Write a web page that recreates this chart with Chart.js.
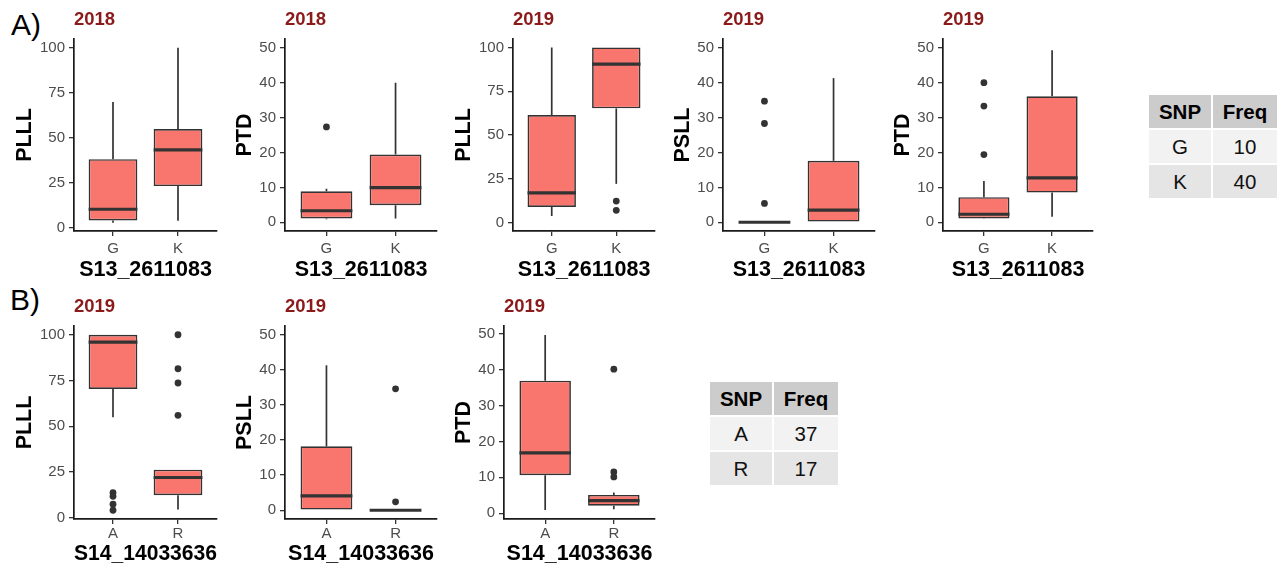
<!DOCTYPE html>
<html>
<head>
<meta charset="utf-8">
<script src="https://cdn.jsdelivr.net/npm/chart.js@4.4.1/dist/chart.umd.min.js"></script>
<style>
  html, body { margin: 0; padding: 0; background: #fff; }
  #fig { position: relative; width: 1286px; height: 568px; overflow: hidden;
         font-family: "Liberation Sans", Arial, sans-serif; }
  .panel { position: absolute; }
  .tag { position: absolute; font-size: 30px; line-height: 30px; color: #000; }
  .year { position: absolute; font-size: 18.5px; line-height: 18px; font-weight: bold; color: #8B1A1A; }
  .cell { position: absolute; display: flex; align-items: center; justify-content: center;
          font-size: 20.5px; color: #111; }
  .cell.head { font-weight: bold; color: #000; }
</style>
</head>
<body>
<div id="fig"></div>
<script>
// Genotype categories and y tick values
const snpA = ['G', 'K'];
const snpB = ['A', 'R'];
const ticks100 = [0, 25, 50, 75, 100];
const ticks50 = [0, 10, 20, 30, 40, 50];

// Five-number summaries per genotype: [lower whisker, Q1, median, Q3, upper whisker]
const plll2018A = [[2.6, 3.9, 10.1, 38.0, 69.8], [3.7, 23.0, 43.2, 54.8, 100]];
const plll2018AOut = [[], []];
const ptd2018A = [[0.9, 1.1, 3.3, 8.9, 9.6], [1.1, 4.9, 9.9, 19.4, 40]];
const ptd2018AOut = [[27.3], []];
const plll2019A = [[3.8, 8.9, 17.0, 61.4, 100], [22.1, 65.2, 90.5, 100, 100]];
const plll2019AOut = [[], [12.3, 7.0]];
const psll2019A = [[0, 0, 0, 0, 0], [0, 0, 3.5, 17.6, 41.3]];
const psll2019AOut = [[34.7, 28.3, 5.4], []];
const ptd2019A = [[1.0, 1.1, 2.3, 7.2, 11.8], [1.6, 8.5, 12.7, 36.1, 49.3]];
const ptd2019AOut = [[40.0, 33.3, 19.4], []];

const plll2019B = [[54.9, 70.3, 96.0, 100, 100], [4.4, 12.2, 21.9, 26.2, 26.2]];
const plll2019BOut = [[13.6, 11.6, 7.3, 4.0], [100, 81.4, 73.6, 55.9]];
const psll2019B = [[0, 0, 4.1, 18.2, 41.3], [0, 0, 0, 0, 0]];
const psll2019BOut = [[], [34.6, 2.4]];
const ptd2019B = [[0.9, 10.6, 16.8, 36.9, 49.6], [1.1, 2.1, 3.5, 5.1, 5.8]];
const ptd2019BOut = [[], [40.1, 11.5, 10.1]];

// Allele frequency tables
const freqHeader = ['SNP', 'Freq'];
const freqAlleleA = ['G', 'K'];
const freqCountA = [10, 40];
const freqAlleleB = ['A', 'R'];
const freqCountB = [37, 17];

const fig = document.getElementById('fig');
const FONT = '"Liberation Sans", Arial, sans-serif';
const BOX_FILL = '#F8766D';
const INK = '#333333';
const TITLE_SIZE = 21.5;
const TICK_SIZE = 15;

// Row layouts (plot panel top/bottom, height of x-axis block, tick padding)
const rows = {
  A: { top: 38, bottom: 231, xH: 52, xPad: 4, yearTop: 10 },
  B: { top: 325, bottom: 519, xH: 48, xPad: 1, yearTop: 297 }
};

const panels = [
  { row: 'A', left: 74, right: 217, year: '2018', yLabel: 'PLLL', xLabel: 'S13_2611083', cats: snpA,
    stats: plll2018A, outliers: plll2018AOut, yMin: -2.0, yMax: 104.9, yTicks: ticks100 },
  { row: 'A', left: 285, right: 437, year: '2018', yLabel: 'PTD', xLabel: 'S13_2611083', cats: snpA,
    stats: ptd2018A, outliers: ptd2018AOut, yMin: -2.5, yMax: 52.5, yTicks: ticks50 },
  { row: 'A', left: 513, right: 655, year: '2019', yLabel: 'PLLL', xLabel: 'S13_2611083', cats: snpA,
    stats: plll2019A, outliers: plll2019AOut, yMin: -4.8, yMax: 104.8, yTicks: ticks100 },
  { row: 'A', left: 723, right: 875, year: '2019', yLabel: 'PSLL', xLabel: 'S13_2611083', cats: snpA,
    stats: psll2019A, outliers: psll2019AOut, yMin: -2.5, yMax: 52.5, yTicks: ticks50 },
  { row: 'A', left: 943, right: 1093, year: '2019', yLabel: 'PTD', xLabel: 'S13_2611083', cats: snpA,
    stats: ptd2019A, outliers: ptd2019AOut, yMin: -2.5, yMax: 52.5, yTicks: ticks50 },
  { row: 'B', left: 74, right: 217, year: '2019', yLabel: 'PLLL', xLabel: 'S14_14033636', cats: snpB,
    stats: plll2019B, outliers: plll2019BOut, yMin: -0.8, yMax: 104.8, yTicks: ticks100 },
  { row: 'B', left: 285, right: 437, year: '2019', yLabel: 'PSLL', xLabel: 'S14_14033636', cats: snpB,
    stats: psll2019B, outliers: psll2019BOut, yMin: -2.5, yMax: 52.5, yTicks: ticks50 },
  { row: 'B', left: 504, right: 655, year: '2019', yLabel: 'PTD', xLabel: 'S14_14033636', cats: snpB,
    stats: ptd2019B, outliers: ptd2019BOut, yMin: -1.6, yMax: 52.1, yTicks: ticks50 }
];

// Whiskers under the boxes, thick median bars on top
const boxWhiskers = {
  id: 'boxWhiskers',
  beforeDatasetsDraw(chart) {
    const stats = chart.data.datasets[0].stats;
    const meta = chart.getDatasetMeta(0);
    const y = chart.scales.y;
    const ctx = chart.ctx;
    ctx.save();
    ctx.strokeStyle = INK;
    ctx.lineWidth = 1.7;
    stats.forEach((s, i) => {
      const el = meta.data[i];
      ctx.beginPath();
      ctx.moveTo(el.x, y.getPixelForValue(s[3]));
      ctx.lineTo(el.x, y.getPixelForValue(s[4]));
      ctx.moveTo(el.x, y.getPixelForValue(s[0]));
      ctx.lineTo(el.x, y.getPixelForValue(s[1]));
      ctx.stroke();
    });
    ctx.restore();
  },
  afterDatasetsDraw(chart) {
    const stats = chart.data.datasets[0].stats;
    const meta = chart.getDatasetMeta(0);
    const y = chart.scales.y;
    const ctx = chart.ctx;
    ctx.save();
    ctx.strokeStyle = INK;
    ctx.lineWidth = 3.2;
    ctx.lineCap = 'butt';
    stats.forEach((s, i) => {
      const el = meta.data[i];
      const py = y.getPixelForValue(s[2]);
      ctx.beginPath();
      ctx.moveTo(el.x - el.width / 2, py);
      ctx.lineTo(el.x + el.width / 2, py);
      ctx.stroke();
    });
    ctx.restore();
  }
};

function addText(cls, text, left, top) {
  const d = document.createElement('div');
  d.className = cls;
  d.textContent = text;
  d.style.left = left + 'px';
  d.style.top = top + 'px';
  fig.appendChild(d);
}

addText('tag', 'A)', 11, 10);
addText('tag', 'B)', 10, 285);

const padT = 12, padR = 10;

panels.forEach(p => {
  const row = rows[p.row];
  const yW = p.yTicks[p.yTicks.length - 1] >= 100 ? 62 : 53;
  const W = (p.right - p.left) + yW + padR;
  const H = padT + (row.bottom - row.top) + row.xH;

  const canvas = document.createElement('canvas');
  canvas.className = 'panel';
  canvas.width = W;
  canvas.height = H;
  canvas.style.width = W + 'px';
  canvas.style.height = H + 'px';
  canvas.style.left = (p.left - yW) + 'px';
  canvas.style.top = (row.top - padT) + 'px';
  fig.appendChild(canvas);

  addText('year', p.year, p.left, row.yearTop);

  const boxes = p.stats.map((s, i) => ({ x: i + 1, y: [s[1], s[3]] }));
  const points = [];
  p.outliers.forEach((list, i) => list.forEach(v => points.push({ x: i + 1, y: v })));

  new Chart(canvas, {
    type: 'bar',
    data: {
      datasets: [
        {
          type: 'bar',
          data: boxes,
          stats: p.stats,
          backgroundColor: BOX_FILL,
          borderColor: INK,
          borderWidth: 1.7,
          borderSkipped: false,
          categoryPercentage: 1,
          barPercentage: 0.75
        },
        {
          type: 'scatter',
          data: points,
          pointRadius: 3.4,
          pointBackgroundColor: INK,
          pointBorderWidth: 0,
          pointHoverRadius: 3.4
        }
      ]
    },
    options: {
      responsive: false,
      maintainAspectRatio: false,
      devicePixelRatio: 1,
      animation: false,
      events: [],
      layout: { autoPadding: false, padding: { top: padT, right: padR, bottom: 0, left: 0 } },
      plugins: { legend: { display: false }, tooltip: { enabled: false }, title: { display: false } },
      scales: {
        x: {
          type: 'linear',
          min: 0.4,
          max: 2.6,
          bounds: 'data',
          offset: false,
          afterBuildTicks: s => { s.ticks = p.cats.map((c, i) => ({ value: i + 1 })); },
          afterFit: s => { s.height = row.xH; },
          ticks: {
            autoSkip: false,
            maxRotation: 0,
            padding: row.xPad,
            color: '#4D4D4D',
            font: { family: FONT, size: TICK_SIZE },
            callback: v => p.cats[Math.round(v) - 1]
          },
          grid: { display: true, offset: false, drawOnChartArea: false, drawTicks: true,
                  tickLength: 5, color: INK, lineWidth: 1.3 },
          border: { display: true, color: '#1a1a1a', width: 1.7 },
          title: { display: true, text: p.xLabel, color: '#000', padding: 0,
                   font: { family: FONT, size: TITLE_SIZE, weight: 'bold', lineHeight: 1.2 } }
        },
        y: {
          type: 'linear',
          min: p.yMin,
          max: p.yMax,
          bounds: 'data',
          beginAtZero: false,
          afterBuildTicks: s => { s.ticks = p.yTicks.map(v => ({ value: v })); },
          afterFit: s => { s.width = yW; },
          ticks: {
            padding: 4,
            color: '#4D4D4D',
            font: { family: FONT, size: TICK_SIZE }
          },
          grid: { display: true, drawOnChartArea: false, drawTicks: true,
                  tickLength: 5, color: INK, lineWidth: 1.3 },
          border: { display: true, color: '#1a1a1a', width: 1.7 },
          title: { display: true, text: p.yLabel, color: '#000', padding: 0,
                   font: { family: FONT, size: TITLE_SIZE, weight: 'bold', lineHeight: 1.2 } }
        }
      }
    },
    plugins: [boxWhiskers]
  });
});

// Allele frequency tables: header row plus one row per allele
function addTable(left, top, alleles, counts) {
  const colW = [62, 64], rowH = 33, gap = 2;
  const fills = ['#CCCCCC', '#F2F2F2', '#E5E5E5'];
  const rowsData = [freqHeader].concat(alleles.map((a, i) => [a, String(counts[i])]));
  rowsData.forEach((r, ri) => {
    let x = left;
    r.forEach((txt, ci) => {
      const d = document.createElement('div');
      d.className = 'cell' + (ri === 0 ? ' head' : '');
      d.textContent = txt;
      d.style.left = x + 'px';
      d.style.top = (top + ri * (rowH + gap)) + 'px';
      d.style.width = colW[ci] + 'px';
      d.style.height = rowH + 'px';
      d.style.background = fills[ri === 0 ? 0 : (ri % 2 === 1 ? 1 : 2)];
      fig.appendChild(d);
      x += colW[ci] + gap;
    });
  });
}

addTable(1149, 95, freqAlleleA, freqCountA);
addTable(710, 382, freqAlleleB, freqCountB);
</script>
</body>
</html>
